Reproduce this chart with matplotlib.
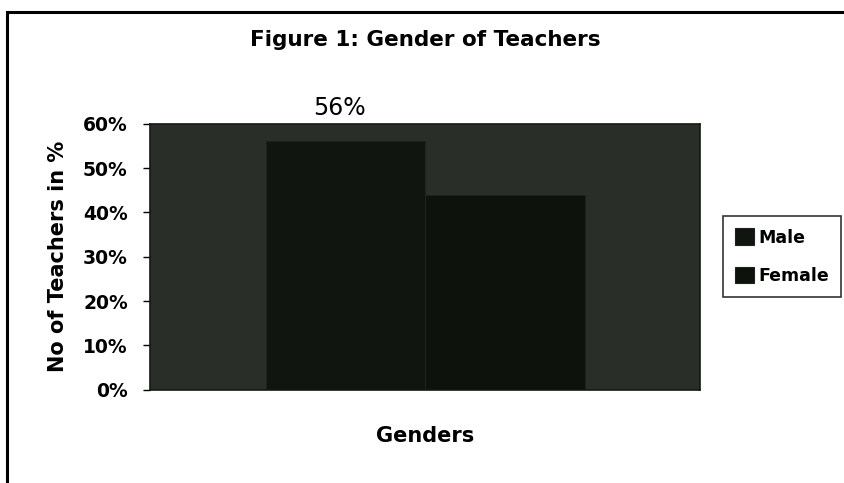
import matplotlib.pyplot as plt
from matplotlib.patches import Rectangle
from matplotlib.ticker import PercentFormatter

# Gender of teachers (percent)
genders = ["Male", "Female"]
shares = [56, 44]
label_text = "56%"

plt.rcParams['font.family'] = ['DejaVu Sans']

fig = plt.figure(figsize=(8.45, 4.83), dpi=100)
ax = fig.add_axes([0.1775, 0.193, 0.651, 0.551])

# plot area: dark grey, bars near black
ax.set_facecolor('#2a2e29')
width = 0.29
offsets = [-width / 2, width / 2]
bar_colors = ['#101510', '#0d120d']
for off, val, name, c in zip(offsets, shares, genders, bar_colors):
    ax.bar(off, val, width=width, color=c, edgecolor='#1e231e', linewidth=0.8, label=name)

ax.set_xlim(-0.5, 0.5)
ax.set_ylim(0, 60)
ax.set_yticks(range(0, 61, 10))
ax.yaxis.set_major_formatter(PercentFormatter(decimals=0))
ax.set_xticks([])
ax.tick_params(axis='y', direction='out', length=5, width=1, labelsize=13.5, pad=11)
for t in ax.get_yticklabels():
    t.set_fontweight('bold')
for s in ax.spines.values():
    s.set_color('#151815')
    s.set_linewidth(1.2)

# data label above the male bar
ax.text(offsets[0] - 0.01, 60.8, label_text, ha='center', va='bottom', fontsize=17)

ax.set_ylabel("No of Teachers in %", fontsize=15, fontweight='bold', labelpad=11)
ax.set_xlabel("Genders", fontsize=15, fontweight='bold', labelpad=26)

fig.text(0.503, 0.917, "Figure 1: Gender of Teachers", ha='center', va='center',
         fontsize=15.5, fontweight='bold')

leg = ax.legend(loc='center left', bbox_to_anchor=(1.025, 0.5), frameon=True,
                prop={'size': 12.5, 'weight': 'bold'}, handlelength=1.1, handleheight=1.1,
                labelspacing=1.15, handletextpad=0.25, borderpad=0.7, fancybox=False)
leg.get_frame().set_edgecolor('black')
leg.get_frame().set_linewidth(1.2)

# outer frame of the scanned figure
fig.patches.append(Rectangle((7 / 845, -0.1), 1.2, 1.1 - 12 / 483,
                             transform=fig.transFigure, fill=False,
                             edgecolor='black', linewidth=2.2))

fig.savefig("out.png", dpi=100)
